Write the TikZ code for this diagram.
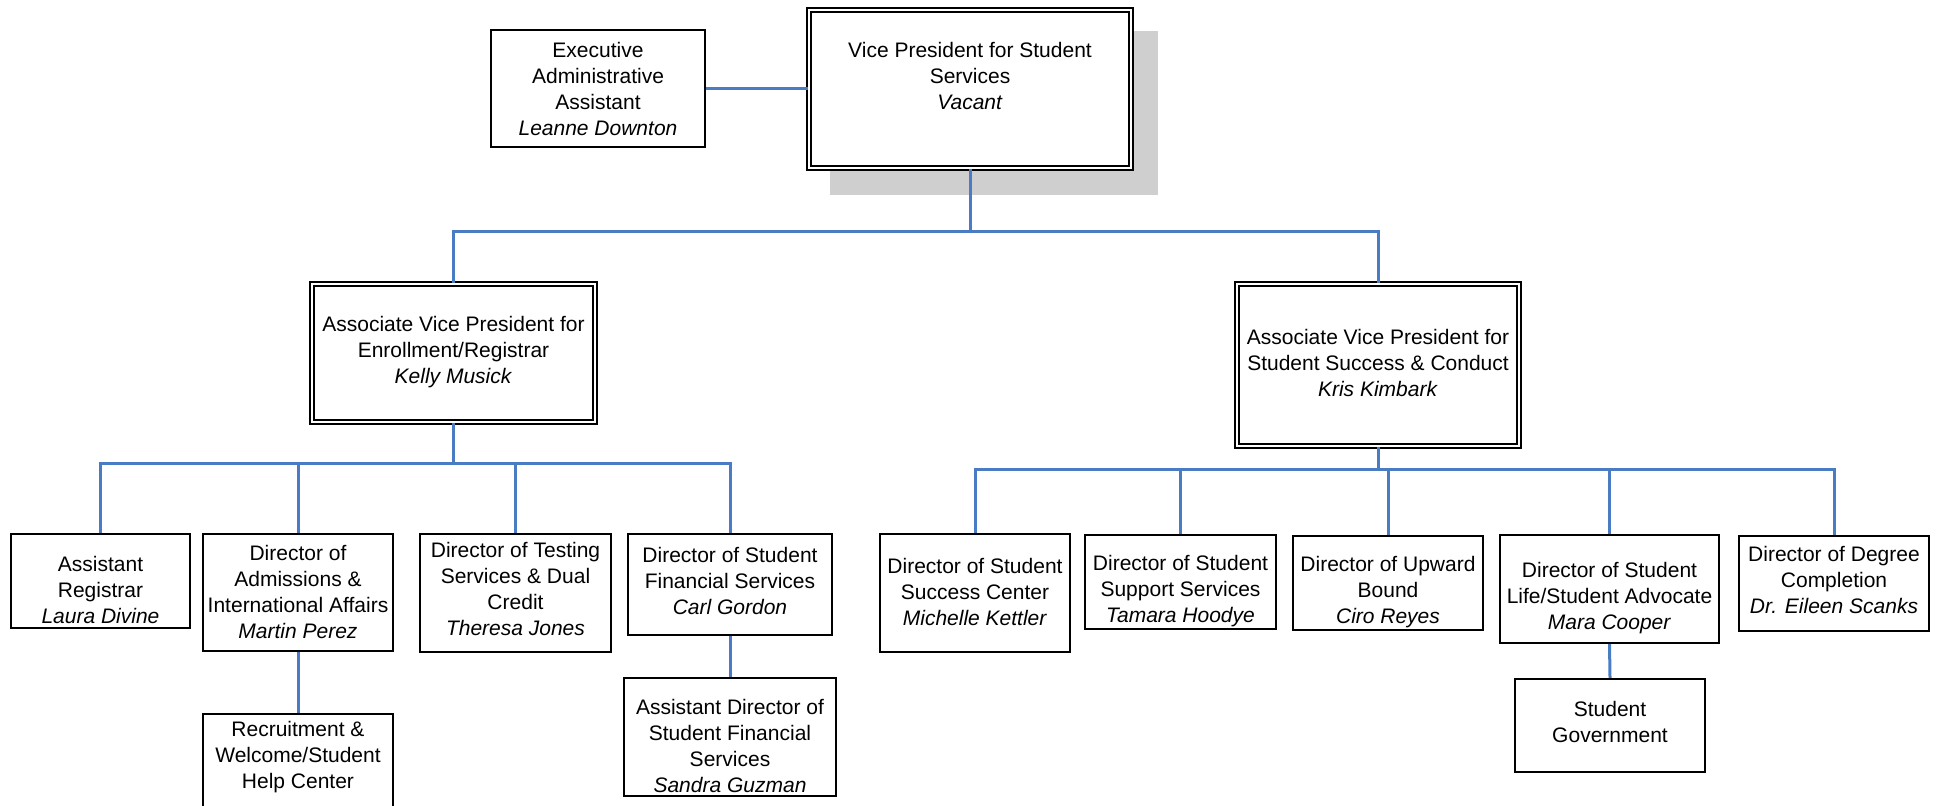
\documentclass[tikz,border=0pt]{standalone}
\usepackage{fontspec}
\setmainfont{Liberation Sans}
\definecolor{conblue}{HTML}{4A7CC4}
\definecolor{shadowgray}{HTML}{CFCFCF}
\tikzset{
 box/.style={draw=black, line width=1.15pt, fill=white, inner sep=0pt},
 dbox/.style={draw=black, fill=white, double=white, line width=0.9pt, double distance=1.2pt, inner sep=0pt},
 txt/.style={inner sep=0pt, align=center, font=\fontsize{10.5pt}{13pt}\selectfont},
 conn/.style={draw=conblue, line width=1.5pt},
}
\newcommand\orgbox[8]{%
 \node[#2, minimum width=#5*0.5pt, minimum height=#6*0.5pt] (#1) at (#3,#4) {};
 \node[txt] (#1-t) at (#3,#7) {#8};}
\begin{document}
\begin{tikzpicture}[x=0.5pt,y=-0.5pt]
\useasboundingbox (0,0) rectangle (1942,806);
\fill[shadowgray] (830,31) rectangle (1158,195);
\orgbox{exec}{box}{598}{88.5}{214}{117}{88.5}{Executive\\Administrative\\Assistant\\\textit{Leanne Downton}}
\orgbox{vp}{dbox}{970}{89}{322}{158}{76}{Vice President for Student\\Services\\\textit{Vacant}}
\orgbox{avp1}{dbox}{453.5}{353}{283}{138}{352}{Associate Vice President for\\Enrollment/Registrar\\\textit{Kelly Musick}}
\orgbox{avp2}{dbox}{1378}{365}{282}{162}{363}{Associate Vice President for\\Student Success \& Conduct\\\textit{Kris Kimbark}}
\orgbox{reg}{box}{100.5}{581}{179}{94}{590}{Assistant\\Registrar\\\textit{Laura Divine}}
\orgbox{adm}{box}{298}{592.5}{190}{117}{592}{Director of\\Admissions \&\\International Affairs\\\textit{Martin Perez}}
\orgbox{rec}{box}{298}{776.5}{190}{125}{757}{Recruitment \&\\Welcome/Student\\Help Center}
\orgbox{test}{box}{515.5}{593}{191}{118}{589}{Director of Testing\\Services \& Dual\\Credit\\\textit{Theresa Jones}}
\orgbox{fin}{box}{730}{584.5}{204}{101}{581}{Director of Student\\Financial Services\\\textit{Carl Gordon}}
\orgbox{adir}{box}{730}{737}{212}{118}{746}{Assistant Director of\\Student Financial\\Services\\\textit{Sandra Guzman}}
\orgbox{succ}{box}{975}{593}{190}{118}{592}{Director of Student\\Success Center\\\textit{Michelle Kettler}}
\orgbox{supp}{box}{1180.5}{582}{191}{94}{591}{Director of Student\\Support Services\\\textit{Tamara Hoodye}}
\orgbox{upw}{box}{1388}{583}{190}{94}{592}{Director of Upward\\Bound\\\textit{Ciro Reyes}}
\orgbox{life}{box}{1609.5}{589}{219}{108}{598}{Director of Student\\Life/Student Advocate\\\textit{Mara Cooper}}
\orgbox{deg}{box}{1834}{583.5}{190}{95}{580}{Director of Degree\\Completion\\\textit{Dr. Eileen Scanks}}
\orgbox{gov}{box}{1610}{725.5}{190}{93}{721.5}{Student\\Government}
% buses
\coordinate (b1) at (0,232);
\coordinate (b2) at (0,464);
\coordinate (b3) at (0,470);
\draw[conn] (exec.east) -- (exec.east -| vp.west);
\draw[conn] (vp.south) -- (vp.south |- b1);
\draw[conn] (avp1.north) -- (avp1.north |- b1) -- (avp2.north |- b1) -- (avp2.north);
\draw[conn] (avp1.south) -- (avp1.south |- b2);
\draw[conn] (reg.north) -- (reg.north |- b2) -- (fin.north |- b2) -- (fin.north);
\draw[conn] (adm.north) -- (adm.north |- b2);
\draw[conn] (test.north) -- (test.north |- b2);
\draw[conn] (avp2.south) -- (avp2.south |- b3);
\draw[conn] (succ.north) -- (succ.north |- b3) -- (deg.north |- b3) -- (deg.north);
\draw[conn] (supp.north) -- (supp.north |- b3);
\draw[conn] (upw.north) -- (upw.north |- b3);
\draw[conn] (life.north) -- (life.north |- b3);
\draw[conn] (adm.south) -- (rec.north);
\draw[conn] (fin.south) -- (adir.north);
\draw[conn] (life.south) -- (gov.north);
\end{tikzpicture}
\end{document}
